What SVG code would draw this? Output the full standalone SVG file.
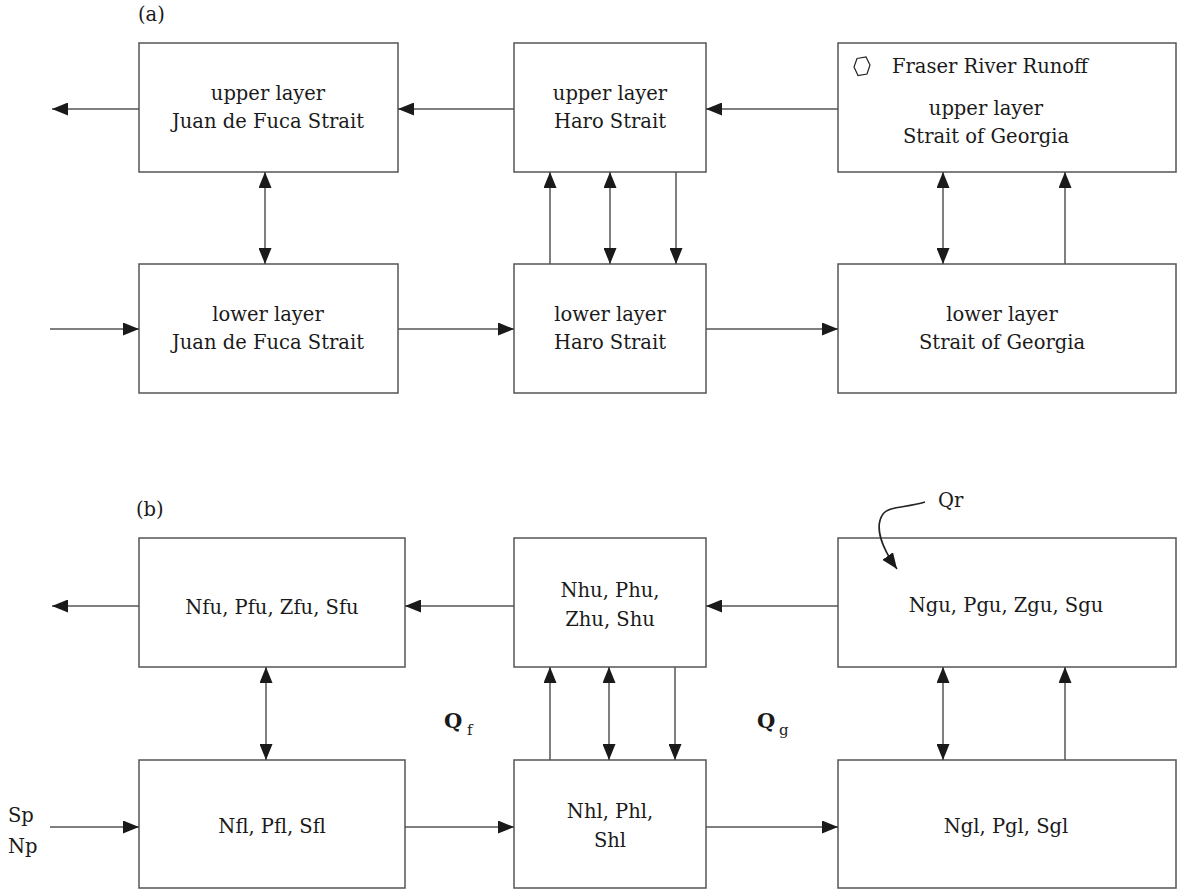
<svg xmlns="http://www.w3.org/2000/svg" width="1180" height="891" viewBox="0 0 1180 891">
<style>
.box{fill:#fff;stroke:#555;stroke-width:1.5}
.ln{fill:none;stroke:#555;stroke-width:1.5}
text{font-family:"DejaVu Serif","Liberation Serif",serif;font-size:19.5px;fill:#1a1a1a}
.c{text-anchor:middle}
.q{font-size:21px;font-weight:600}
.sub{font-size:15px}
</style>
<defs>
<marker id="ah" markerUnits="userSpaceOnUse" markerWidth="16" markerHeight="13" refX="16" refY="6.5" orient="auto-start-reverse" viewBox="0 0 16 13">
<path d="M0,0 L16,6.5 L0,13 z" fill="#1a1a1a"/>
</marker>
</defs>
<rect width="1180" height="891" fill="#fff"/>
<text x="138" y="21">(a)</text>
<text x="136" y="516">(b)</text>

<g id="a-upper-jdf">
<rect class="box" x="139" y="43" width="259" height="129"/>
<text class="c" x="268" y="100">upper layer</text>
<text class="c" x="268" y="128">Juan de Fuca Strait</text>
</g>
<g id="a-upper-haro">
<rect class="box" x="514" y="43" width="192" height="129"/>
<text class="c" x="610" y="100">upper layer</text>
<text class="c" x="610" y="128">Haro Strait</text>
</g>
<g id="a-upper-georgia">
<rect class="box" x="838" y="43" width="338" height="129"/>
<polygon points="857,58.5 866,57 870,65 867,74 858,75.5 854,67" fill="none" stroke="#222" stroke-width="1.2"/>
<text x="892" y="73">Fraser River Runoff</text>
<text class="c" x="986" y="115">upper layer</text>
<text class="c" x="986" y="143">Strait of Georgia</text>
</g>
<g id="a-lower-jdf">
<rect class="box" x="139" y="264" width="259" height="129"/>
<text class="c" x="268" y="321">lower layer</text>
<text class="c" x="268" y="349">Juan de Fuca Strait</text>
</g>
<g id="a-lower-haro">
<rect class="box" x="514" y="264" width="192" height="129"/>
<text class="c" x="610" y="321">lower layer</text>
<text class="c" x="610" y="349">Haro Strait</text>
</g>
<g id="a-lower-georgia">
<rect class="box" x="838" y="264" width="338" height="129"/>
<text class="c" x="1002" y="321">lower layer</text>
<text class="c" x="1002" y="349">Strait of Georgia</text>
</g>

<g id="b-upper-jdf">
<rect class="box" x="139" y="538" width="266" height="129"/>
<text class="c" x="272" y="614">Nfu, Pfu, Zfu, Sfu</text>
</g>
<g id="b-upper-haro">
<rect class="box" x="514" y="538" width="192" height="129"/>
<text class="c" x="610" y="597">Nhu, Phu,</text>
<text class="c" x="610" y="626">Zhu, Shu</text>
</g>
<g id="b-upper-georgia">
<rect class="box" x="838" y="538" width="338" height="129"/>
<text class="c" x="1006" y="612">Ngu, Pgu, Zgu, Sgu</text>
</g>
<g id="b-lower-jdf">
<rect class="box" x="139" y="760" width="266" height="128"/>
<text class="c" x="272" y="833">Nfl, Pfl, Sfl</text>
</g>
<g id="b-lower-haro">
<rect class="box" x="514" y="760" width="192" height="128"/>
<text class="c" x="610" y="818">Nhl, Phl,</text>
<text class="c" x="610" y="847">Shl</text>
</g>
<g id="b-lower-georgia">
<rect class="box" x="838" y="760" width="338" height="128"/>
<text class="c" x="1006" y="833">Ngl, Pgl, Sgl</text>
</g>

<g id="connectors">
<line class="ln" x1="139" y1="109" x2="52" y2="109" marker-end="url(#ah)"/>
<line class="ln" x1="514" y1="109" x2="398" y2="109" marker-end="url(#ah)"/>
<line class="ln" x1="838" y1="109" x2="706" y2="109" marker-end="url(#ah)"/>
<line class="ln" x1="265" y1="172" x2="265" y2="264" marker-start="url(#ah)" marker-end="url(#ah)"/>
<line class="ln" x1="550" y1="264" x2="550" y2="172" marker-end="url(#ah)"/>
<line class="ln" x1="610" y1="172" x2="610" y2="264" marker-start="url(#ah)" marker-end="url(#ah)"/>
<line class="ln" x1="676" y1="172" x2="676" y2="264" marker-end="url(#ah)"/>
<line class="ln" x1="943" y1="172" x2="943" y2="264" marker-start="url(#ah)" marker-end="url(#ah)"/>
<line class="ln" x1="1065" y1="264" x2="1065" y2="172" marker-end="url(#ah)"/>
<line class="ln" x1="50" y1="329" x2="139" y2="329" marker-end="url(#ah)"/>
<line class="ln" x1="398" y1="329" x2="514" y2="329" marker-end="url(#ah)"/>
<line class="ln" x1="706" y1="329" x2="838" y2="329" marker-end="url(#ah)"/>
<line class="ln" x1="139" y1="606" x2="52" y2="606" marker-end="url(#ah)"/>
<line class="ln" x1="514" y1="606" x2="405" y2="606" marker-end="url(#ah)"/>
<line class="ln" x1="838" y1="606" x2="706" y2="606" marker-end="url(#ah)"/>
<line class="ln" x1="266" y1="667" x2="266" y2="760" marker-start="url(#ah)" marker-end="url(#ah)"/>
<line class="ln" x1="550" y1="760" x2="550" y2="667" marker-end="url(#ah)"/>
<line class="ln" x1="609" y1="667" x2="609" y2="760" marker-start="url(#ah)" marker-end="url(#ah)"/>
<line class="ln" x1="675" y1="667" x2="675" y2="760" marker-end="url(#ah)"/>
<line class="ln" x1="943" y1="667" x2="943" y2="760" marker-start="url(#ah)" marker-end="url(#ah)"/>
<line class="ln" x1="1065" y1="760" x2="1065" y2="667" marker-end="url(#ah)"/>
<line class="ln" x1="50" y1="827" x2="139" y2="827" marker-end="url(#ah)"/>
<line class="ln" x1="405" y1="827" x2="514" y2="827" marker-end="url(#ah)"/>
<line class="ln" x1="706" y1="827" x2="838" y2="827" marker-end="url(#ah)"/>
<path class="ln" style="stroke:#222" d="M925,502 C905,508 889,506 883,514 C874,527 882,548 897,569" marker-end="url(#ah)"/>
</g>

<g id="labels">
<text x="938" y="507">Qr</text>
<text class="q" x="444" y="728">Q</text><text class="sub" x="467" y="735">f</text>
<text class="q" x="757" y="728">Q</text><text class="sub" x="779" y="735">g</text>
<text x="8" y="822">Sp</text>
<text x="8" y="853">Np</text>
</g>
</svg>
